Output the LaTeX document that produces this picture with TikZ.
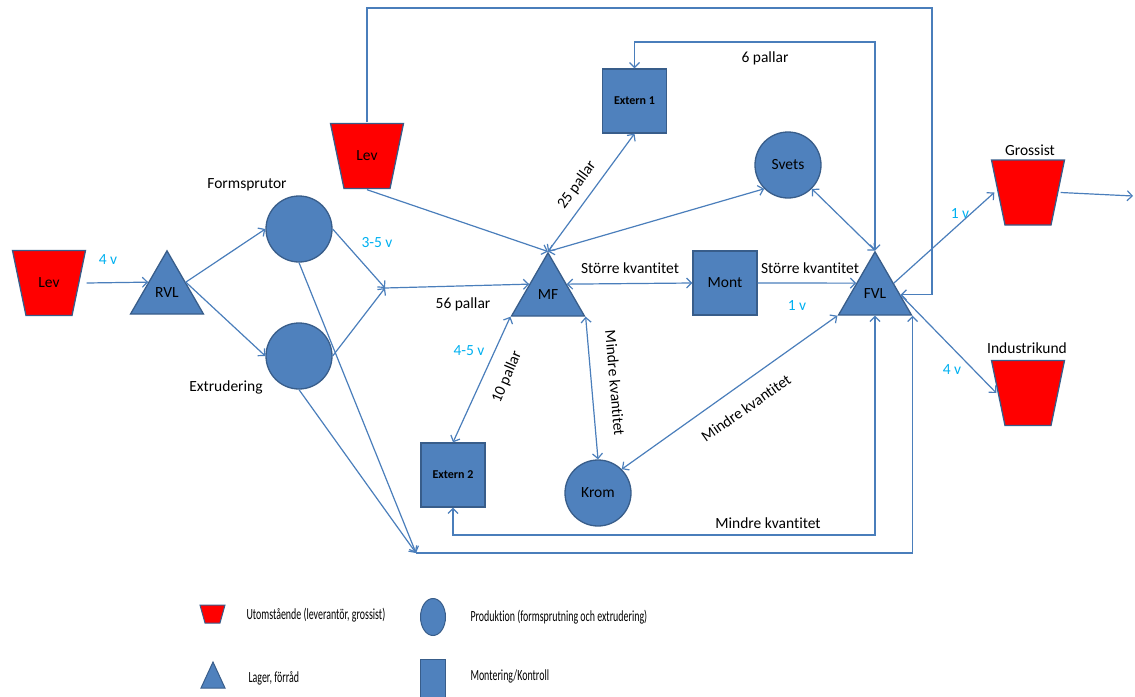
\documentclass[tikz,border=0pt]{standalone}
\usepackage{fontspec}
\setmainfont{Carlito}[Ligatures=NoCommon]
\usetikzlibrary{shapes.geometric, arrows.meta, calc}
\definecolor{shapeblue}{HTML}{4F81BD}
\definecolor{edgeblue}{HTML}{385D8A}
\definecolor{linkblue}{HTML}{4A7EBB}
\definecolor{timecyan}{HTML}{00B0F0}
\newcommand\extfont{\fontsize{12}{14}\selectfont\bfseries}
\newcommand\legendtext[1]{\scalebox{0.64}[1]{\fontsize{15.5}{18}\selectfont #1}}

\begin{document}
\begin{tikzpicture}[x=1pt, y=-1pt,
  font=\fontsize{15.5}{18}\selectfont,
  link/.style={draw=linkblue, line width=1.2pt},
  arr/.style={link, -{Straight Barb[length=5pt,width=10pt]}},
  dbl/.style={link, {Straight Barb[length=5pt,width=10pt]}-{Straight Barb[length=5pt,width=10pt]}},
  store/.style={regular polygon, regular polygon sides=3, minimum size=84.3pt,
    inner sep=0pt, fill=shapeblue, draw=edgeblue, line width=1.3pt},
  prod/.style={circle, minimum size=66pt, inner sep=0pt,
    fill=shapeblue, draw=edgeblue, line width=1.3pt},
  unit/.style={rectangle, minimum size=64pt, inner sep=0pt,
    fill=shapeblue, draw=edgeblue, line width=1.3pt},
  party/.style={rectangle, minimum width=75pt, minimum height=67pt, inner sep=0pt,
    path picture={\draw[line width=1.3pt, draw=edgeblue, fill=red]
      ([shift={(1,1)}]path picture bounding box.north west) --
      ([shift={(-1,1)}]path picture bounding box.north east) --
      ([shift={(-14.5,-1)}]path picture bounding box.south east) --
      ([shift={(14.5,-1)}]path picture bounding box.south west) -- cycle;}},
  time/.style={text=timecyan},
  legendshape/.style={draw=edgeblue, line width=1pt, fill=shapeblue}
]
\useasboundingbox (0,0) rectangle (1135,696);

% --- flow nodes ---
\node[party] (lev1) at (49,283) {Lev};
\node[store] (rvl) at (167,293) {RVL};
\node[prod] (form) at (299,229) {};
\node[prod] (extr) at (299,356) {};
\node[party] (lev2) at (367,156) {Lev};
\node[store] (mf) at (548,295) {MF};
\node[unit] (ext1) at (634.5,101) {\extfont Extern 1};
\node[prod] (svets) at (788,165) {Svets};
\node[unit] (mont) at (725,283) {Mont};
\node[store] (fvl) at (875,294) {FVL};
\node[party] (gross) at (1028,192.5) {};
\node[party] (ind) at (1028,393) {};
\node[unit] (ext2) at (453,475) {\extfont Extern 2};
\node[prod] (krom) at (598,493) {Krom};

% --- captions ---
\node (lblForm) at (247,185) {Formsprutor};
\node (lblExtr) at (226,387) {Extrudering};
\node (lblGross) at (1030,150) {Grossist};
\node (lblInd) at (1027,348) {Industrikund};
\node[time] (t1) at (108,260) {4 v};
\node[time] (t2) at (377,243) {3-5 v};
\node (p56) at (463,304) {56 pallar};
\node[rotate=54] (p25) at (577,185) {25 pallar};
\node (p6) at (765,58) {6 pallar};
\node (sk1) at (630,268) {Större kvantitet};
\node (sk2) at (810,268) {Större kvantitet};
\node[time] (t3) at (797,306) {1 v};
\node[time] (t4) at (960,214) {1 v};
\node[time] (t5) at (952,370) {4 v};
\node[time] (t6) at (469,351) {4-5 v};
\node[rotate=67] (p10) at (507,377) {10 pallar};
\node[rotate=-85] (mk1) at (615,383) {Mindre kvantitet};
\node[rotate=35] (mk2) at (746,408) {Mindre kvantitet};
\node (mk3) at (768,523) {Mindre kvantitet};

% --- routing points ---
\coordinate (join) at (385,288);
\coordinate (sink) at (416,553);
\coordinate (topR) at (932,8);
\coordinate (top6) at (875,42);
\coordinate (bot) at (700,535);
\coordinate (exit) at (1133,196);
\coordinate (fvlR) at ($(fvl.corner 1)!0.68!(fvl.corner 3)$);

% --- connectors ---
\draw[arr] (lev1.east) -- (rvl.side 1);
\draw[arr] (rvl.side 3) -- (form.west);
\draw[arr] (rvl.side 3) -- (extr.west);
\draw[arr] (form.east) -- (join);
\draw[arr] (extr.east) -- (join);
\draw[arr] (join) -- (mf.side 1);
\draw[arr] (form.south) -- (sink);
\draw[arr] (extr.south) -- (sink);
\draw[arr] (sink) -| (fvl.corner 3);
\draw[arr] (lev2.south) -- (mf.corner 1);
\draw[arr] (lev2.north) |- (topR) |- (fvlR);
\draw[dbl] (mf.corner 1) -- (ext1.south);
\draw[dbl] (mf.corner 1) -- (svets.south west);
\draw[dbl] (svets.south east) -- (fvl.corner 1);
\draw[dbl] (ext1.north) |- (top6) -- (fvl.corner 1);
\draw[dbl] (mf.side 3) -- (mont.west);
\draw[arr] (mont.east) -- (fvl.side 1);
\draw[arr] (fvl.side 3) -- ($(gross.west)+(4,0)$);
\draw[arr] ($(gross.east)+(-5,0)$) -- (exit);
\draw[arr] (fvlR) -- ($(ind.west)+(6,0)$);
\draw[dbl] (mf.corner 2) -- (ext2.north);
\draw[dbl] (mf.corner 3) -- (krom.north);
\draw[dbl] (fvl.corner 2) -- (krom.north east);
\draw[dbl] (fvl.side 2) |- (bot) -| (ext2.south);

% --- legend ---
\draw[draw=edgeblue, line width=1pt, fill=red]
  (200,605) -- (225,605) -- (220,623) -- (205,623) -- cycle;
\draw[legendshape] (433,617) ellipse [x radius=12.5, y radius=18.5];
\draw[legendshape] (213,662) -- (225,688) -- (201,688) -- cycle;
\draw[legendshape] (420,659) rectangle (445,697);
\node[anchor=west] (lg1) at (243,615) {\legendtext{Utomstående (leverantör, grossist)}};
\node[anchor=west] (lg2) at (467,617) {\legendtext{Produktion (formsprutning och extrudering)}};
\node[anchor=west] (lg3) at (245,678) {\legendtext{Lager, förråd}};
\node[anchor=west] (lg4) at (467,676) {\legendtext{Montering/Kontroll}};
\end{tikzpicture}
\end{document}
